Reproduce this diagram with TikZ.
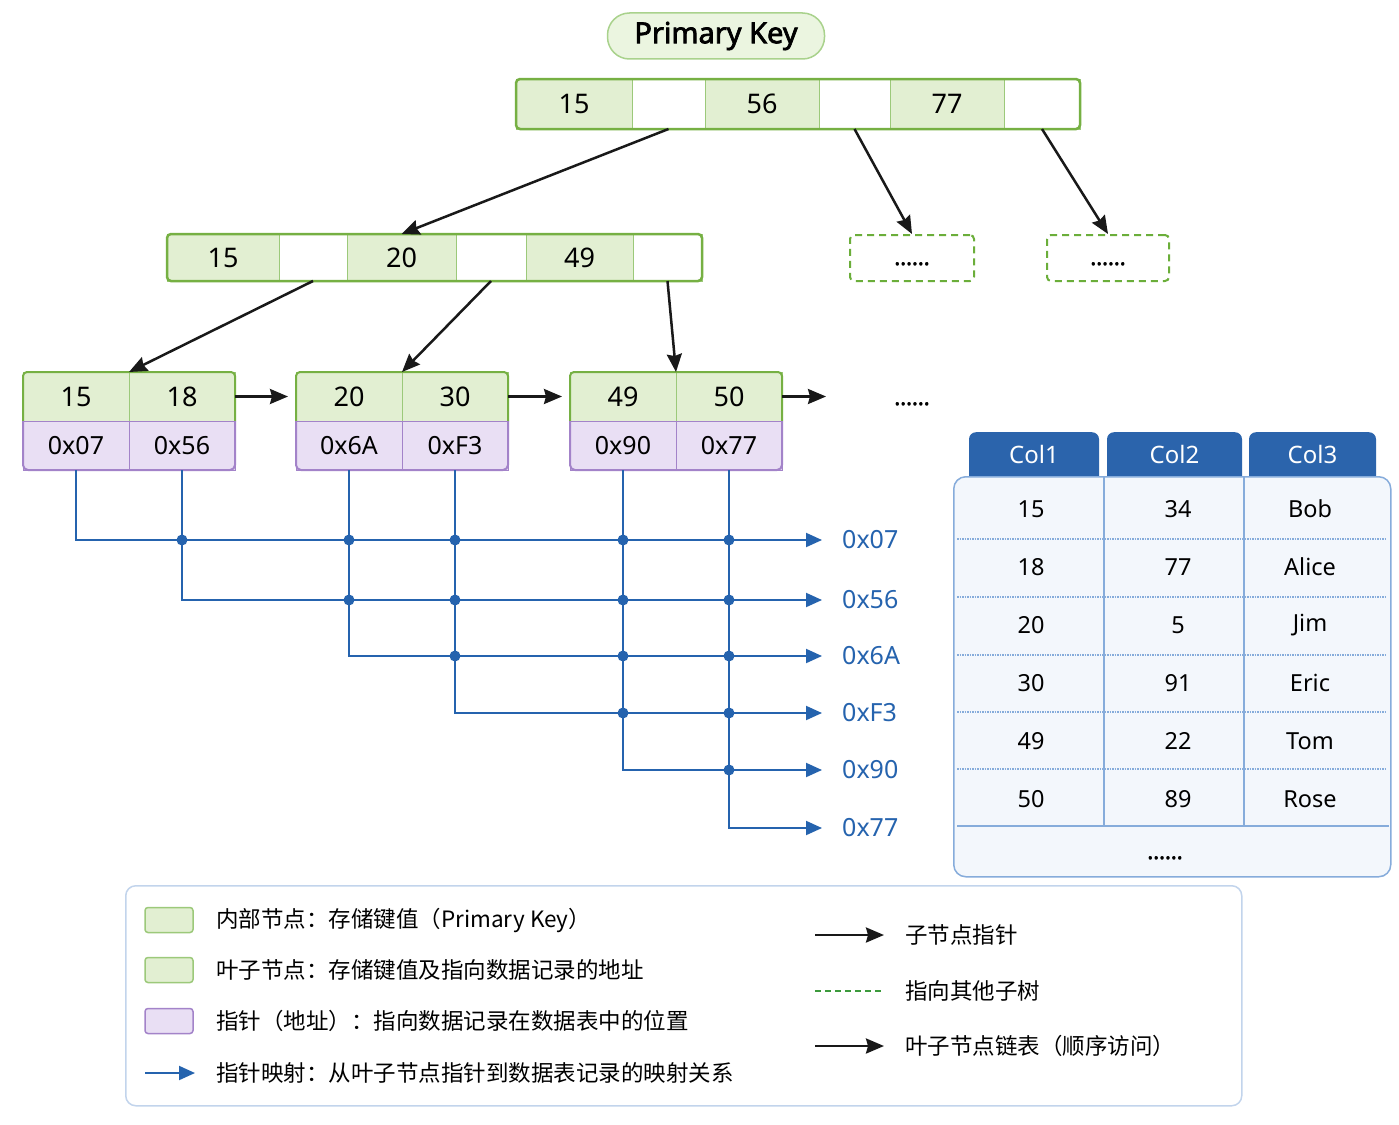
\documentclass[tikz,border=0pt]{standalone}
\usepackage{fontspec}
\setmainfont{Noto Sans}[AutoFakeBold=2.5]
\newfontfamily\cjk{Noto Sans CJK SC}
\usetikzlibrary{arrows.meta,positioning}

\definecolor{keygreen}{HTML}{E2EFD2}
\definecolor{framegreen}{HTML}{76B043}
\definecolor{linegreen}{HTML}{9CC97A}
\definecolor{pillgreen}{HTML}{EBF5E0}
\definecolor{pillline}{HTML}{A9D28C}
\definecolor{ptrpurple}{HTML}{E9DFF4}
\definecolor{ptrline}{HTML}{A383C9}
\definecolor{mapblue}{HTML}{2563AE}
\definecolor{hdrblue}{HTML}{2B64AC}
\definecolor{tblfill}{HTML}{F3F7FC}
\definecolor{tblline}{HTML}{86ACDB}
\definecolor{legline}{HTML}{C2D4EC}
\definecolor{dashgreen}{HTML}{6BAE3A}
\definecolor{legdash}{HTML}{3C9A3C}

\begin{document}
\begin{tikzpicture}[x=1pt,y=-1pt,>={Stealth[length=18pt,width=15pt,inset=2pt]},
    keycell/.style={draw=linegreen,line width=1pt,fill=keygreen,inner sep=0pt,outer sep=0pt,
                    font=\fontsize{27}{30}\selectfont},
    blankcell/.style={keycell,fill=white},
    ptrcell/.style={keycell,draw=ptrline,fill=ptrpurple,font=\fontsize{25}{28}\selectfont},
    root/.style={minimum height=50},
    mid/.style={minimum height=47},
    leaf/.style={minimum height=49,minimum width=106},
    greenframe/.style={draw=framegreen,line width=2.5pt,rounded corners=4pt},
    purpleframe/.style={draw=ptrline,line width=2pt,rounded corners=5pt},
    pill/.style={fill=pillgreen,draw=pillline,line width=1.5pt,rounded corners=22pt,
                 minimum width=217,minimum height=46,font=\bfseries\fontsize{29}{32}\selectfont},
    dots/.style={text height=14pt,text depth=0pt,font=\bfseries\fontsize{22}{24}\selectfont},
    subtree/.style={dots,draw=dashgreen,line width=2pt,dash pattern=on 7pt off 5pt,rounded corners=4pt,
                    minimum height=46},
    child/.style={->,black!90,line width=2.5pt},
    link/.style={->,black!90,line width=2.5pt},
    map/.style={-{Triangle[length=16pt,width=14pt]},draw=mapblue,line width=2pt},
    addr/.style={anchor=west,inner sep=0pt,text=mapblue,font=\fontsize{25}{28}\selectfont},
    hdr/.style={fill=hdrblue,text=white,rounded corners=7pt,inner sep=0pt,text height=31pt,
                text depth=23pt,anchor=north,font=\fontsize{24}{26}\selectfont},
    tbody/.style={draw=tblline,fill=tblfill,line width=1.5pt,rounded corners=12pt,anchor=north west,
                  minimum width=437,minimum height=400,inner sep=0pt},
    tcell/.style={font=\fontsize{23.5}{26}\selectfont},
    legbox/.style={draw=legline,fill=white,line width=1.5pt,rounded corners=10pt,anchor=north west,
                   minimum width=1116,minimum height=220,inner sep=0pt},
    swatch/.style={minimum width=48,minimum height=25,rounded corners=3pt,line width=1.5pt,inner sep=0pt},
    legtext/.style={anchor=west,inner sep=0pt,font=\cjk\fontsize{22.5}{26}\selectfont}]

  \useasboundingbox[fill=white] (0,0) rectangle (1399,1124);

  % root node
  \node[pill] (pk) at (716,36) {Primary Key};
  \node[keycell,root,minimum width=116,anchor=north west] (r1) at (516,79) {15};
  \node[blankcell,root,minimum width=73,right=0pt of r1] (r2) {};
  \node[keycell,root,minimum width=114,right=0pt of r2] (r3) {56};
  \node[blankcell,root,minimum width=71,right=0pt of r3] (r4) {};
  \node[keycell,root,minimum width=114,right=0pt of r4] (r5) {77};
  \node[blankcell,root,minimum width=76,right=0pt of r5] (r6) {};
  \draw[greenframe] (r1.north west) rectangle (r6.south east);

  % second level
  \node[keycell,mid,minimum width=112,anchor=north west] (m1) at (167,234) {15};
  \node[blankcell,mid,minimum width=68,right=0pt of m1] (m2) {};
  \node[keycell,mid,minimum width=109,right=0pt of m2] (m3) {20};
  \node[blankcell,mid,minimum width=70,right=0pt of m3] (m4) {};
  \node[keycell,mid,minimum width=107,right=0pt of m4] (m5) {49};
  \node[blankcell,mid,minimum width=69,right=0pt of m5] (m6) {};
  \draw[greenframe] (m1.north west) rectangle (m6.south east);

  \node[subtree,minimum width=124] (d1) at (912,258) {......};
  \node[subtree,minimum width=122] (d2) at (1108,258) {......};

  % leaves
  \node[keycell,leaf,anchor=north west] (k1) at (23,372) {15};
  \node[keycell,leaf,right=0pt of k1] (k2) {18};
  \node[ptrcell,leaf,below=0pt of k1] (p1) {0x07};
  \node[ptrcell,leaf,below=0pt of k2] (p2) {0x56};

  \node[keycell,leaf,anchor=north west] (k3) at (296,372) {20};
  \node[keycell,leaf,right=0pt of k3] (k4) {30};
  \node[ptrcell,leaf,below=0pt of k3] (p3) {0x6A};
  \node[ptrcell,leaf,below=0pt of k4] (p4) {0xF3};

  \node[keycell,leaf,anchor=north west] (k5) at (570,372) {49};
  \node[keycell,leaf,right=0pt of k5] (k6) {50};
  \node[ptrcell,leaf,below=0pt of k5] (p5) {0x90};
  \node[ptrcell,leaf,below=0pt of k6] (p6) {0x77};

  \foreach \a/\b in {1/2,3/4,5/6}{
    \draw[greenframe,line width=2pt] (k\a.south west) |- (k\b.north) -| (k\b.south east);
    \draw[purpleframe] (p\a.north west) |- (p\b.south) -| (p\b.north east);
  }

  \node[dots] (more) at (912,398) {......};
  \coordinate (linkend) at (826,396.5);

  \path[child] (r2.south) edge (m3.north)
               (r4.south) edge (d1.north)
               (r6.south) edge (d2.north)
               (m2.south) edge (k1.north east)
               (m4.south) edge (k3.north east)
               (m6.south) edge (k5.north east);

  \path[link] (k2.east) edge[shorten >=8pt] (k3.west)
              (k4.east) edge[shorten >=8pt] (k5.west)
              (k6.east) edge (linkend);

  % pointer mapping
  \node[addr] (a1) at (842,540) {0x07};
  \node[addr] (a2) at (842,600) {0x56};
  \node[addr] (a3) at (842,656) {0x6A};
  \node[addr] (a4) at (842,713) {0xF3};
  \node[addr] (a5) at (842,770) {0x90};
  \node[addr] (a6) at (842,828) {0x77};

  \foreach \i in {1,...,6}
    \draw[map,shorten >=20pt] (p\i.south) |- (a\i.west);
  \foreach \i in {1,...,5}{
    \pgfmathtruncatemacro\jfirst{\i+1}
    \foreach \j in {\jfirst,...,6}
      \fill[mapblue] (p\j.south |- a\i.west) circle (5.5pt);
  }

  % data table
  \node[hdr,minimum width=130] (h1) at (1034,432) {Col1};
  \node[hdr,minimum width=135] (h2) at (1174.5,432) {Col2};
  \node[hdr,minimum width=127] (h3) at (1312.5,432) {Col3};
  \node[tbody] (tb) at (953,476) {};
  \draw[tblline,line width=1.2pt] (1104,477) -- (1104,826) (1244,477) -- (1244,826);
  \foreach \y in {539,597,655,712,769}
    \draw[tblline,line width=1.2pt,dash pattern=on 1.5pt off 1pt] (957,\y) -- (1387,\y);
  \draw[tblline,line width=1.5pt] (957,826) -- (1389,826);
  \foreach \a/\b/\c [count=\r] in {15/34/Bob,18/77/Alice,20/5/Jim,30/91/Eric,49/22/Tom,50/89/Rose}{
    \pgfmathsetmacro\yy{451+58*\r}
    \node[tcell] (c\r-1) at (1031,\yy) {\a};
    \node[tcell] (c\r-2) at (1178,\yy) {\b};
    \node[tcell] (c\r-3) at (1310,\yy) {\c};
  }
  \node[dots] (tmore) at (1165,852) {......};

  % legend
  \node[legbox] (leg) at (125,885) {};
  \node[swatch,fill=keygreen,draw=linegreen] (s1) at (169,920) {};
  \node[swatch,fill=keygreen,draw=linegreen] (s2) at (169,970) {};
  \node[swatch,fill=ptrpurple,draw=ptrline] (s3) at (169,1021) {};
  \coordinate (s4a) at (145,1073);
  \coordinate (s4b) at (195,1073);
  \draw[map] (s4a) -- (s4b);
  \node[legtext] (t1) at (216,920) {内部节点：存储键值（Primary Key）};
  \node[legtext] (t2) at (216,970) {叶子节点：存储键值及指向数据记录的地址};
  \node[legtext] (t3) at (216,1021) {指针（地址）：指向数据记录在数据表中的位置};
  \node[legtext] (t4) at (216,1073) {指针映射：从叶子节点指针到数据表记录的映射关系};

  \coordinate (q1a) at (815,935);
  \coordinate (q1b) at (884,935);
  \coordinate (q2a) at (815,991);
  \coordinate (q2b) at (884,991);
  \coordinate (q3a) at (815,1046);
  \coordinate (q3b) at (884,1046);
  \draw[child] (q1a) -- (q1b);
  \draw[legdash,line width=2pt,dash pattern=on 6pt off 4pt] (q2a) -- (q2b);
  \draw[link] (q3a) -- (q3b);
  \node[legtext] (u1) at (905,935) {子节点指针};
  \node[legtext] (u2) at (905,991) {指向其他子树};
  \node[legtext] (u3) at (905,1046) {叶子节点链表（顺序访问）};
\end{tikzpicture}
\end{document}
